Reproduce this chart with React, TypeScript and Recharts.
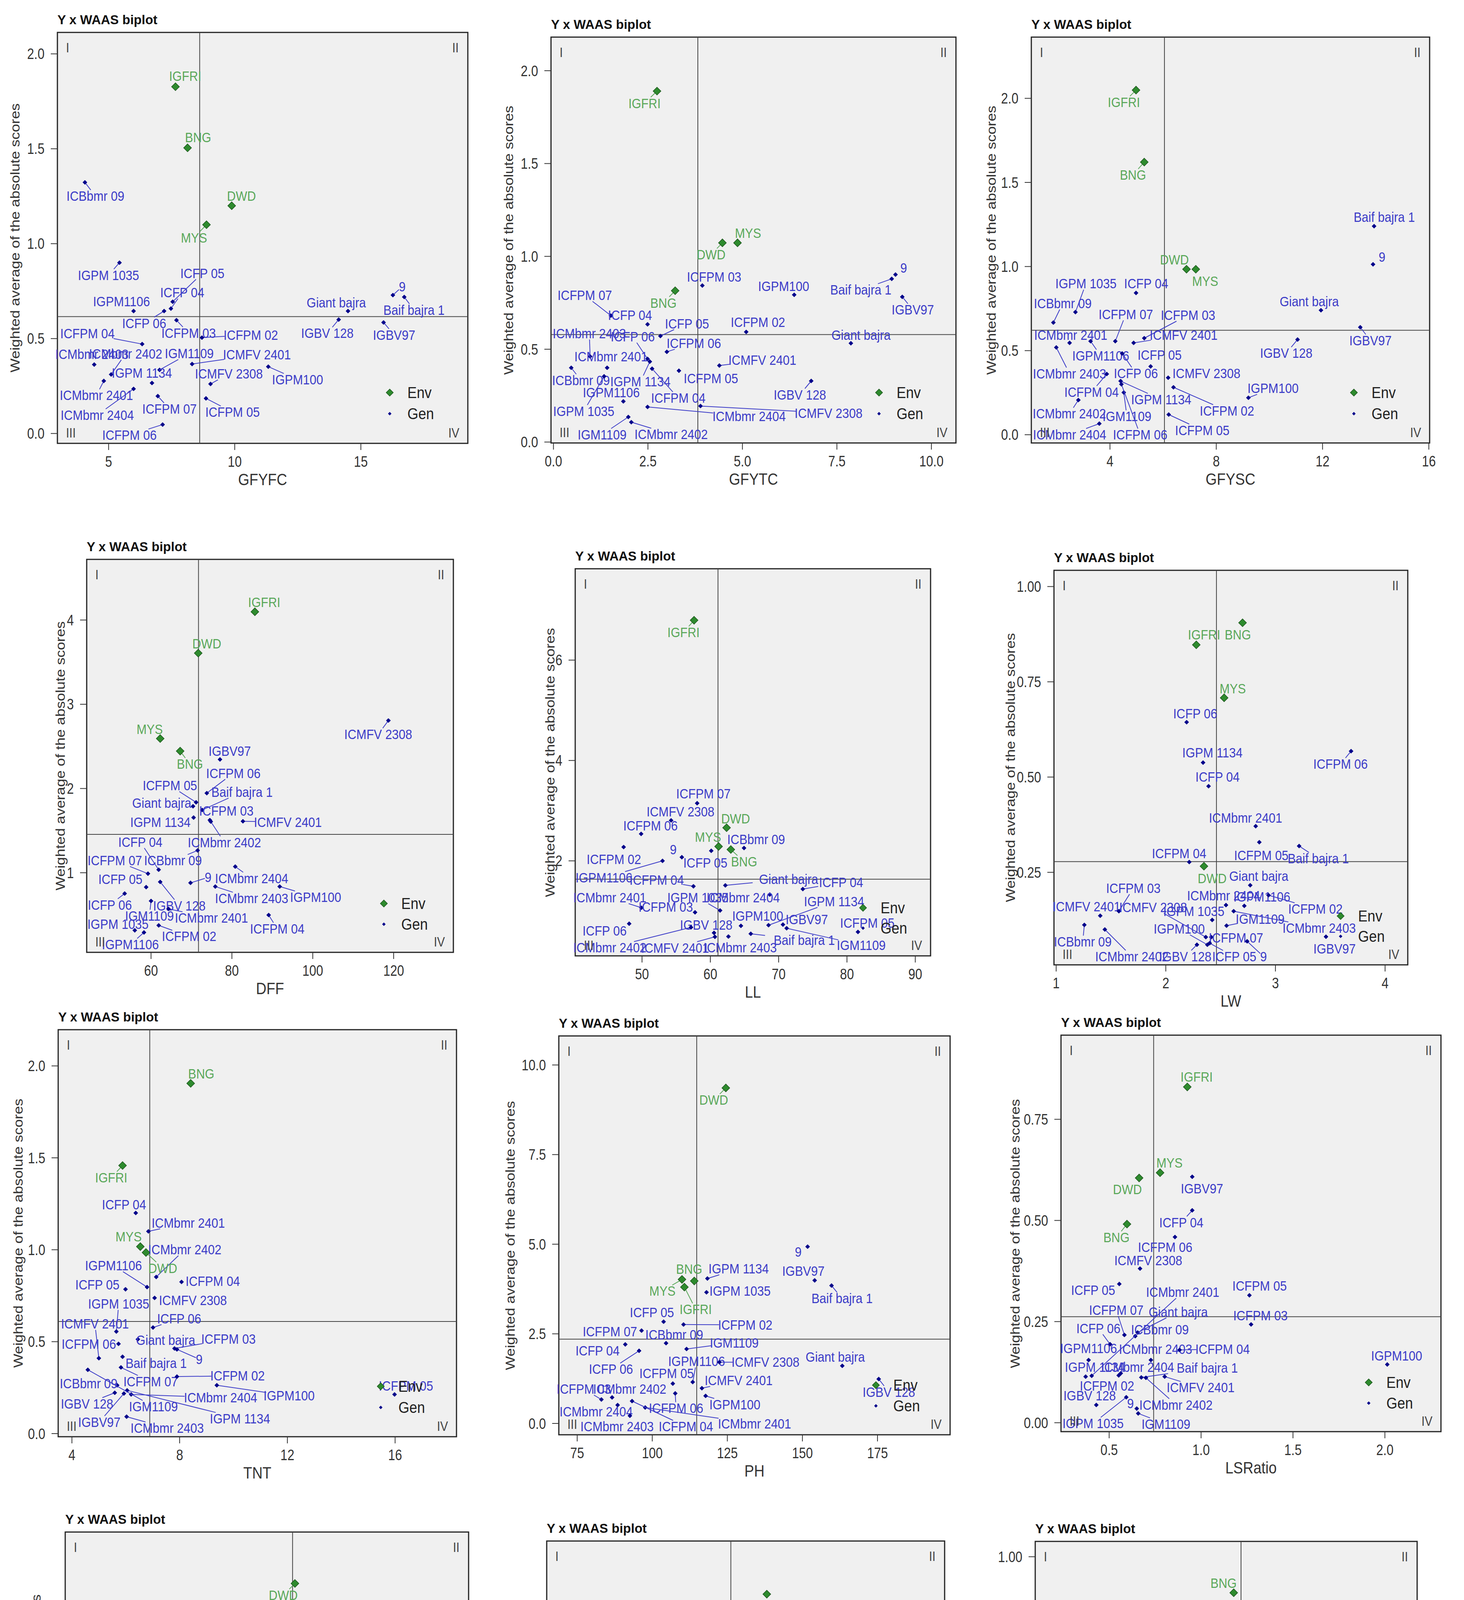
import { ScatterChart, Scatter, XAxis, YAxis, ReferenceLine, ReferenceArea } from "recharts";

type Row = [string, number, number];
type Nudge = Record<string, [number, number]>;

const FONT = '"Liberation Sans", Arial, Helvetica, sans-serif';
const GEN_DOT = "#00008b";
const GEN_TEXT = "#3c3cc8";
const ENV_DOT = "#2e8b2e";
const ENV_TEXT = "#5aa85a";
const LABEL_FS = 31;
// the source figure was stretched vertically a little, so text is drawn taller than wide
const STRETCH = 1.15;

const Y_TITLE = "Weighted average of the absolute scores";
const QUADRANTS = ["I", "II", "III", "IV"];

// ---- GFYFC ----
const gfyfcEnv: Row[] = [["IGFRI", 7.65, 1.827], ["BNG", 8.13, 1.505], ["DWD", 9.88, 1.2], ["MYS", 8.88, 1.1]];
const gfyfcGen: Row[] = [
  ["ICBbmr 09", 4.06, 1.323], ["IGPM 1035", 5.43, 0.9], ["IGPM1106", 5.99, 0.645], ["ICFP 05", 7.54, 0.694],
  ["ICFP 04", 7.47, 0.658], ["ICFP 06", 7.2, 0.645], ["ICFPM 03", 7.69, 0.597], ["ICFPM 02", 8.7, 0.505],
  ["ICFPM 04", 6.33, 0.471], ["ICMbmr 2403", 4.43, 0.363], ["ICMbmr 2402", 5.1, 0.311], ["IGM1109", 7.02, 0.335],
  ["IGPM 1134", 6.72, 0.266], ["ICMFV 2401", 8.31, 0.366], ["ICMFV 2308", 9.04, 0.261], ["IGPM100", 11.33, 0.352],
  ["ICMbmr 2401", 4.81, 0.277], ["ICMbmr 2404", 5.99, 0.235], ["ICFPM 07", 6.95, 0.197], ["ICFPM 05", 8.86, 0.185],
  ["ICFPM 06", 7.14, 0.047], ["Giant bajra", 14.49, 0.645], ["IGBV 128", 14.12, 0.6], ["9", 16.27, 0.729],
  ["Baif bajra 1", 16.72, 0.719], ["IGBV97", 15.9, 0.585],
];
const gfyfcNudge: Nudge = {
  IGFRI: [25, -27], BNG: [27, -27], DWD: [25, -25], MYS: [-32, 33],
  "ICBbmr 09": [27, 35], "IGPM 1035": [-28, 32], IGPM1106: [-31, -25], "ICFP 05": [76, -73], "ICFP 04": [29, -41],
  "ICFP 06": [-51, 31], "ICFPM 03": [31, 33], "ICFPM 02": [125, -7], "ICFPM 04": [-140, -27], "ICMbmr 2403": [-6, -27],
  "ICMbmr 2402": [37, -53], IGM1109: [76, -42], "IGPM 1134": [-26, -26], "ICMFV 2401": [166, -24], "ICMFV 2308": [47, -26],
  IGPM100: [75, 33], "ICMbmr 2401": [-19, 37], "ICMbmr 2404": [-93, 67], "ICFPM 07": [30, 33], "ICFPM 05": [68, 35],
  "ICFPM 06": [-85, 27], "Giant bajra": [-30, -22], "IGBV 128": [-29, 35], "9": [24, -22], "Baif bajra 1": [25, 33], IGBV97: [27, 32],
};

// ---- GFYTC ----
const gfytcEnv: Row[] = [["IGFRI", 2.74, 1.89], ["BNG", 3.22, 0.815], ["DWD", 4.47, 1.073], ["MYS", 4.87, 1.073]];
const gfytcGen: Row[] = [
  ["9", 9.05, 0.902], ["Baif bajra 1", 8.95, 0.879], ["IGBV97", 9.23, 0.782], ["IGPM100", 6.37, 0.793],
  ["ICFPM 03", 3.94, 0.843], ["ICFPM 07", 1.52, 0.681], ["ICFP 04", 2.49, 0.634], ["ICFP 05", 2.83, 0.571],
  ["ICFPM 02", 5.1, 0.593], ["Giant bajra", 7.87, 0.532], ["ICBbmr 09", 0.47, 0.4], ["ICMbmr 2403", 0.97, 0.461],
  ["ICMbmr 2401", 1.42, 0.4], ["IGPM 1035", 1.34, 0.354], ["IGPM1106", 1.85, 0.219], ["ICFP 06", 2.49, 0.448],
  ["IGPM 1134", 2.55, 0.433], ["ICFPM 04", 2.61, 0.395], ["ICFPM 06", 3.0, 0.486], ["ICFPM 05", 3.32, 0.384],
  ["ICMFV 2401", 4.39, 0.412], ["IGBV 128", 6.82, 0.329], ["ICMbmr 2404", 2.49, 0.189], ["ICMFV 2308", 3.89, 0.194],
  ["IGM1109", 1.98, 0.135], ["ICMbmr 2402", 2.06, 0.107],
];
const gfytcNudge: Nudge = {
  IGFRI: [-32, 31], BNG: [-30, 31], DWD: [-29, 30], MYS: [27, -25],
  "9": [21, -17], "Baif bajra 1": [-79, 28], IGBV97: [27, 33], IGPM100: [-27, -22], "ICFPM 03": [30, -22],
  "ICFPM 07": [-67, -52], "ICFP 04": [-45, -24], "ICFP 05": [68, -32], "ICFPM 02": [30, -25], "Giant bajra": [26, -21],
  "ICBbmr 09": [25, 32], "ICMbmr 2403": [-2, -59], "ICMbmr 2401": [10, -29], "IGPM 1035": [-52, 89], IGPM1106: [-31, -23],
  "ICFP 06": [-38, -57], "IGPM 1134": [-24, 51], "ICFPM 04": [67, 75], "ICFPM 06": [69, -22], "ICFPM 05": [82, 20],
  "ICMFV 2401": [110, -14], "IGBV 128": [-29, 35], "ICMbmr 2404": [260, 24], "ICMFV 2308": [328, 18], IGM1109: [-67, 45],
  "ICMbmr 2402": [102, 31],
};

// ---- GFYSC ----
const gfyscEnv: Row[] = [["IGFRI", 4.98, 2.049], ["BNG", 5.29, 1.621], ["DWD", 6.88, 0.984], ["MYS", 7.23, 0.984]];
const gfyscGen: Row[] = [
  ["Baif bajra 1", 13.94, 1.24], ["9", 13.9, 1.013], ["Giant bajra", 11.94, 0.74], ["IGBV97", 13.42, 0.639],
  ["IGBV 128", 11.06, 0.566], ["IGPM100", 9.21, 0.22], ["ICFP 04", 4.98, 0.843], ["IGPM 1035", 2.7, 0.729],
  ["ICBbmr 09", 1.87, 0.667], ["ICFPM 07", 4.2, 0.556], ["ICFPM 03", 5.29, 0.574], ["ICMbmr 2401", 2.48, 0.546],
  ["IGPM1106", 3.27, 0.556], ["ICMFV 2401", 4.89, 0.546], ["ICMbmr 2403", 1.98, 0.519], ["ICFP 06", 4.46, 0.483],
  ["ICFP 05", 5.53, 0.406], ["ICMFV 2308", 6.19, 0.339], ["ICFPM 04", 3.88, 0.361], ["IGPM 1134", 4.4, 0.319],
  ["IGM1109", 4.52, 0.251], ["ICFPM 06", 4.43, 0.3], ["ICFPM 02", 6.39, 0.282], ["ICFPM 05", 6.21, 0.12],
  ["ICMbmr 2402", 2.81, 0.206], ["ICMbmr 2404", 3.6, 0.066],
];
const gfyscNudge: Nudge = {
  IGFRI: [-31, 31], BNG: [-29, 33], DWD: [-31, -24], MYS: [24, 31],
  "Baif bajra 1": [26, -23], "9": [23, -19], "Giant bajra": [-30, -23], IGBV97: [26, 34], "IGBV 128": [-29, 35],
  IGPM100: [63, -24], "ICFP 04": [26, -24], "IGPM 1035": [27, -73], "ICBbmr 09": [24, -49], "ICFPM 07": [27, -69],
  "ICFPM 03": [112, -59], "ICMbmr 2401": [3, -20], IGPM1106: [26, 37], "ICMFV 2401": [128, -20], "ICMbmr 2403": [34, 67],
  "ICFP 06": [35, 51], "ICFP 05": [23, -29], "ICMFV 2308": [98, -11], "ICFPM 04": [-39, 46], "IGPM 1134": [104, 47],
  IGM1109: [8, 61], "ICFPM 06": [48, 129], "ICFPM 02": [137, 60], "ICFPM 05": [86, 40], "ICMbmr 2402": [-23, 35],
  "ICMbmr 2404": [-76, 28],
};

// ---- DFF ----
const dffEnv: Row[] = [["IGFRI", 85.68, 4.098], ["DWD", 71.67, 3.607], ["MYS", 62.27, 2.593], ["BNG", 67.2, 2.444]];
const dffGen: Row[] = [
  ["ICMFV 2308", 118.7, 2.807], ["IGBV97", 77.05, 2.345], ["ICFPM 06", 73.79, 1.945], ["ICFPM 05", 71.14, 1.836],
  ["Baif bajra 1", 72.65, 1.745], ["Giant bajra", 70.38, 1.789], ["ICFPM 03", 74.55, 1.625], ["IGPM 1134", 70.53, 1.655],
  ["ICMFV 2401", 82.73, 1.611], ["ICMbmr 2402", 74.77, 1.607], ["ICFP 04", 61.89, 1.036], ["ICFPM 07", 59.24, 0.989],
  ["ICBbmr 09", 71.52, 1.265], ["ICFP 05", 58.79, 0.829], ["9", 69.77, 0.88], ["IGBV 128", 62.27, 0.891],
  ["ICFP 06", 53.48, 0.753], ["ICMbmr 2404", 80.83, 1.073], ["ICMbmr 2403", 75.9, 0.836], ["IGPM100", 91.82, 0.836],
  ["ICMbmr 2401", 64.32, 0.571], ["IGM1109", 60.0, 0.665], ["ICFPM 04", 89.09, 0.498], ["IGPM 1035", 55.98, 0.316],
  ["IGPM1106", 58.26, 0.291], ["ICFPM 02", 61.89, 0.375],
];
const dffNudge: Nudge = {
  IGFRI: [24, -24], DWD: [22, -24], MYS: [-27, -24], BNG: [25, 33],
  "ICMFV 2308": [-26, 35], IGBV97: [25, -21], "ICFPM 06": [68, -51], "ICFPM 05": [-67, -43], "Baif bajra 1": [102, -46],
  "Giant bajra": [-80, -8], "ICFPM 03": [42, -24], "IGPM 1134": [-85, 12], "ICMFV 2401": [115, 2], "ICMbmr 2402": [35, 53],
  "ICFP 04": [-47, -71], "ICFPM 07": [-85, -34], "ICBbmr 09": [-63, 26], "ICFP 05": [-66, -20], "9": [45, -14],
  "IGBV 128": [49, 61], "ICFP 06": [-38, 29], "ICMbmr 2404": [42, 30], "ICMbmr 2403": [93, 30], IGPM100: [92, 27],
  "ICMbmr 2401": [110, 23], IGM1109: [-4, 38], "ICFPM 04": [22, 35], "IGPM 1035": [-43, -16], IGPM1106: [-35, 31],
  "ICFPM 02": [78, 28],
};

// ---- LL ----
const llEnv: Row[] = [["IGFRI", 57.62, 6.794], ["DWD", 62.38, 2.66], ["MYS", 61.21, 2.287], ["BNG", 63.0, 2.226]];
const llGen: Row[] = [
  ["ICFPM 07", 58.07, 3.148], ["ICMFV 2308", 54.26, 2.806], ["ICFPM 06", 49.87, 2.537], ["ICFPM 02", 47.31, 2.275],
  ["9", 55.83, 2.073], ["ICFP 05", 60.13, 2.2], ["ICBbmr 09", 64.93, 2.256], ["IGPM1106", 53.0, 2.0],
  ["ICFPM 04", 57.53, 1.493], ["Giant bajra", 62.2, 1.511], ["ICFP 04", 73.54, 1.438], ["ICMbmr 2404", 68.7, 1.328],
  ["IGPM 1035", 61.43, 1.011], ["ICMbmr 2401", 49.91, 1.066], ["ICFPM 03", 57.76, 0.974], ["IGPM 1134", 68.52, 0.718],
  ["ICFP 06", 48.12, 0.748], ["IGBV 128", 60.54, 0.565], ["IGPM100", 64.48, 0.705], ["IGBV97", 70.63, 0.73],
  ["IGM1109", 71.17, 0.657], ["Baif bajra 1", 65.92, 0.547], ["ICFPM 05", 81.61, 0.583], ["ICMbmr 2402", 57.17, 0.675],
  ["ICMFV 2401", 60.67, 0.486], ["ICMbmr 2403", 62.65, 0.492],
];
const llNudge: Nudge = {
  IGFRI: [-27, 31], DWD: [23, -23], MYS: [-27, -24], BNG: [34, 31],
  "ICFPM 07": [16, -25], "ICMFV 2308": [24, -22], "ICFPM 06": [24, -21], "ICFPM 02": [-25, 31], "9": [-22, -20],
  "ICFP 05": [-15, 31], "ICBbmr 09": [31, -22], IGPM1106: [-150, 43], "ICFPM 04": [-94, -16], "Giant bajra": [162, -16],
  "ICFP 04": [98, -17], "ICMbmr 2404": [-68, 8], "IGPM 1035": [-57, -33], "ICMbmr 2401": [-81, -26], "ICFPM 03": [-75, -14],
  "IGPM 1134": [168, -61], "ICFP 06": [-63, 18], "IGBV 128": [-20, -20], IGPM100: [43, -25], IGBV97: [61, -13],
  IGM1109: [191, 43], "Baif bajra 1": [137, 16], "ICFPM 05": [24, -23], "ICMbmr 2402": [-208, 52], "ICMFV 2401": [-102, 28],
  "ICMbmr 2403": [30, 28],
};

// ---- LW ----
const lwEnv: Row[] = [["BNG", 2.7, 0.905], ["IGFRI", 2.278, 0.847], ["MYS", 2.532, 0.708], ["DWD", 2.348, 0.266]];
const lwGen: Row[] = [
  ["ICFP 06", 2.19, 0.644], ["ICFPM 06", 3.69, 0.568], ["IGPM 1134", 2.34, 0.538], ["ICFP 04", 2.39, 0.476],
  ["ICMbmr 2401", 2.82, 0.371], ["ICFPM 05", 2.853, 0.329], ["Baif bajra 1", 3.216, 0.319], ["ICFPM 04", 2.214, 0.277],
  ["Giant bajra", 2.77, 0.216], ["IGBV97", 3.461, 0.081], ["ICBbmr 09", 1.257, 0.112], ["ICMbmr 2402", 1.444, 0.1],
  ["ICMFV 2401", 1.402, 0.136], ["ICFPM 03", 1.572, 0.148], ["ICMFV 2308", 2.365, 0.08], ["IGPM 1035", 2.423, 0.125],
  ["IGPM100", 2.379, 0.06], ["IGM1109", 2.554, 0.11], ["ICFPM 07", 2.415, 0.08], ["IGBV 128", 2.284, 0.06],
  ["ICMbmr 2404", 2.549, 0.164], ["IGPM1106", 2.716, 0.162], ["ICFPM 02", 2.937, 0.19], ["ICMbmr 2403", 2.619, 0.148],
  ["9", 2.742, 0.069], ["ICFP 05", 2.4, 0.064],
];
const lwNudge: Nudge = {
  BNG: [-12, 31], IGFRI: [20, -26], MYS: [22, -24], DWD: [21, 31],
  "ICFP 06": [22, -22], "ICFPM 06": [-27, 33], "IGPM 1134": [24, -25], "ICFP 04": [23, -24], "ICMbmr 2401": [-26, -21],
  "ICFPM 05": [5, 34], "Baif bajra 1": [49, 32], "ICFPM 04": [-26, -22], "Giant bajra": [22, -24], IGBV97: [22, 31],
  "ICBbmr 09": [-4, 43], "ICMbmr 2402": [69, 69], "ICMFV 2401": [-35, -24], "ICFPM 03": [37, -59], "ICMFV 2308": [-135, -76],
  "IGPM 1035": [-47, -22], IGPM100: [-72, -41], IGM1109: [86, -17], "ICFPM 07": [63, 2], "IGBV 128": [-30, 30],
  "ICMbmr 2404": [-6, -24], IGPM1106: [45, -23], "ICFPM 02": [120, 35], "ICMbmr 2403": [219, 43], "9": [42, 39],
  "ICFP 05": [63, 34],
};

// ---- TNT ----
const tntEnv: Row[] = [["BNG", 8.41, 1.905], ["IGFRI", 5.88, 1.458], ["MYS", 6.54, 1.017], ["DWD", 6.75, 0.985]];
const tntGen: Row[] = [
  ["ICFP 04", 6.37, 1.2], ["ICMbmr 2401", 6.84, 1.1], ["ICMbmr 2402", 7.13, 0.852], ["ICFPM 04", 8.07, 0.825],
  ["IGPM1106", 6.79, 0.797], ["ICFP 05", 5.99, 0.785], ["ICMFV 2308", 7.07, 0.738], ["IGPM 1035", 5.65, 0.555],
  ["ICFP 06", 7.01, 0.577], ["ICMFV 2401", 5.0, 0.41], ["ICFPM 06", 5.73, 0.488], ["Giant bajra", 6.45, 0.513],
  ["ICFPM 03", 7.81, 0.463], ["9", 7.9, 0.458], ["Baif bajra 1", 5.88, 0.418], ["ICBbmr 09", 5.68, 0.263],
  ["IGBV 128", 5.59, 0.222], ["IGBV97", 5.93, 0.218], ["ICFPM 07", 5.82, 0.36], ["ICFPM 02", 7.9, 0.31],
  ["IGPM100", 9.38, 0.263], ["ICMbmr 2404", 6.2, 0.213], ["IGPM 1134", 6.05, 0.235], ["ICMbmr 2403", 6.03, 0.092],
  ["IGM1109", 4.59, 0.347], ["ICFPM 05", 15.98, 0.213],
];
const tntNudge: Nudge = {
  BNG: [27, -25], IGFRI: [-29, 31], MYS: [-30, -26], DWD: [43, 40],
  "ICFP 04": [-30, -22], "ICMbmr 2401": [102, -22], "ICMbmr 2402": [73, -70], "ICFPM 04": [80, -2], IGPM1106: [-86, -55],
  "ICFP 05": [-72, -12], "ICMFV 2308": [98, 6], "IGPM 1035": [6, -71], "ICFP 06": [67, -23], "ICMFV 2401": [-10, -88],
  "ICFPM 06": [-76, 0], "Giant bajra": [71, 2], "ICFPM 03": [138, -24], "9": [57, 25], "Baif bajra 1": [86, 16],
  "ICBbmr 09": [-73, -4], "IGBV 128": [-71, 28], IGBV97: [-63, 73], "ICFPM 07": [76, 36], "ICFPM 02": [155, -2],
  IGPM100: [185, 27], "ICMbmr 2404": [229, 8], "IGPM 1134": [289, 72], "ICMbmr 2403": [104, 29], IGM1109: [168, 94],
  "ICFPM 05": [29, -22],
};

// ---- PH ----
const phEnv: Row[] = [["DWD", 124.5, 9.359], ["MYS", 109.9, 4.017], ["BNG", 113.98, 3.974], ["IGFRI", 110.7, 3.803]];
const phGen: Row[] = [
  ["9", 151.73, 4.932], ["IGBV97", 154.08, 3.99], ["Baif bajra 1", 159.69, 3.846], ["IGPM 1134", 118.37, 4.043],
  ["IGPM 1035", 118.06, 3.658], ["ICFP 05", 103.78, 2.838], ["ICFPM 02", 110.41, 2.76], ["ICFPM 07", 96.43, 2.59],
  ["ICBbmr 09", 104.59, 2.239], ["ICFP 04", 91.02, 2.205], ["IGM1109", 111.43, 2.077], ["ICFP 06", 95.61, 2.026],
  ["Giant bajra", 163.27, 1.607], ["IGPM1106", 113.47, 1.154], ["ICMFV 2308", 122.35, 1.709], ["ICFPM 05", 106.84, 1.111],
  ["ICMFV 2401", 116.53, 0.983], ["IGPM100", 117.76, 0.769], ["ICFPM 03", 83.06, 0.667], ["ICMbmr 2402", 86.63, 0.726],
  ["ICMbmr 2404", 88.47, 0.513], ["ICMbmr 2401", 97.65, 0.444], ["ICFPM 06", 107.65, 0.838], ["ICMbmr 2403", 92.55, 0.214],
  ["ICFPM 04", 93.27, 0.624], ["IGBV 128", 175.41, 1.239],
];
const phNudge: Nudge = {
  DWD: [-31, 31], MYS: [-50, 29], BNG: [-13, -31], IGFRI: [29, 57],
  "9": [-24, 13], IGBV97: [-29, -24], "Baif bajra 1": [27, 33], "IGPM 1134": [80, -25], "IGPM 1035": [86, -4],
  "ICFP 05": [-30, -24], "ICFPM 02": [158, 1], "ICFPM 07": [-81, 2], "ICBbmr 09": [21, -22], "ICFP 04": [-71, 16],
  IGM1109: [122, -16], "ICFP 06": [-72, 47], "Giant bajra": [-18, -23], IGPM1106: [10, -53], "ICMFV 2308": [118, 0],
  "ICFPM 05": [-16, -26], "ICMFV 2401": [94, -20], IGPM100: [75, 22], "ICFPM 03": [-45, -27], "ICMbmr 2402": [45, -22],
  "ICMbmr 2404": [-55, 17], "ICMbmr 2401": [280, 41], "ICFPM 06": [2, 38], "ICMbmr 2403": [-33, 27], "ICFPM 04": [138, 65],
  "IGBV 128": [26, 33],
};

// ---- LSRatio ----
const lsrEnv: Row[] = [["IGFRI", 0.925, 0.83], ["MYS", 0.777, 0.618], ["DWD", 0.663, 0.605], ["BNG", 0.597, 0.491]];
const lsrGen: Row[] = [
  ["IGBV97", 0.952, 0.608], ["ICFP 04", 0.952, 0.525], ["ICFPM 06", 0.858, 0.459], ["ICMFV 2308", 0.668, 0.381],
  ["ICFP 05", 0.555, 0.343], ["ICFPM 05", 1.263, 0.315], ["ICFPM 03", 1.272, 0.243], ["IGPM100", 2.013, 0.144],
  ["ICFPM 07", 0.583, 0.217], ["ICBbmr 09", 0.642, 0.214], ["Giant bajra", 0.655, 0.223], ["ICFP 06", 0.505, 0.194],
  ["IGPM1106", 0.388, 0.155], ["IGPM 1134", 0.372, 0.114], ["ICMbmr 2401", 0.405, 0.116], ["ICMbmr 2403", 0.727, 0.155],
  ["ICFPM 04", 0.883, 0.18], ["ICMbmr 2404", 0.563, 0.122], ["Baif bajra 1", 0.675, 0.112], ["ICMbmr 2402", 0.7, 0.111],
  ["ICMFV 2401", 0.802, 0.114], ["ICFPM 02", 0.552, 0.117], ["IGBV 128", 0.43, 0.044], ["9", 0.65, 0.035],
  ["IGM1109", 0.658, 0.023], ["IGPM 1035", 0.593, 0.063],
];
const lsrNudge: Nudge = {
  IGFRI: [24, -26], MYS: [24, -25], DWD: [-30, 29], BNG: [-27, 34],
  IGBV97: [25, 30], "ICFP 04": [-28, 31], "ICFPM 06": [-25, 26], "ICMFV 2308": [21, -21], "ICFP 05": [-67, 16],
  "ICFPM 05": [26, -24], "ICFPM 03": [24, -23], IGPM100: [24, -22], "ICFPM 07": [-21, -64], "ICBbmr 09": [63, -17],
  "Giant bajra": [104, -53], "ICFP 06": [-30, -41], IGPM1106: [0, -30], "IGPM 1134": [24, -24], "ICMbmr 2401": [233, -214],
  "ICMbmr 2403": [12, -28], "ICFPM 04": [110, -2], "ICMbmr 2404": [43, -16], "Baif bajra 1": [169, -24], "ICMbmr 2402": [77, 69],
  "ICMFV 2401": [92, 28], "ICFPM 02": [-30, 27], "IGBV 128": [-17, -24], "9": [-16, -13], IGM1109: [71, 27],
  "IGPM 1035": [-85, 67],
};

// ---- NDF ----
const ndfEnv: Row[] = [["DWD", 64.77, 2.558], ["BNG", 64.82, 1.569], ["MYS", 64.0, 1.369], ["IGFRI", 64.47, 0.518]];
const ndfGen: Row[] = [
  ["IGPM100", 54.08, 2.129], ["ICFPM 05", 65.47, 1.341], ["ICFP 04", 69.44, 1.092], ["ICFPM 04", 66.5, 0.958],
  ["IGM1109", 65.71, 0.682], ["ICFPM 02", 65.1, 0.746], ["ICMbmr 2402", 63.37, 0.499], ["ICMFV 2308", 62.25, 0.624],
  ["IGPM 1134", 65.24, 0.546], ["IGBV97", 61.32, 0.539], ["9", 62.95, 0.482], ["ICFPM 07", 65.4, 0.428],
  ["IGBV 128", 68.83, 0.494], ["IGPM1106", 63.72, 0.271], ["ICFP 06", 63.19, 0.287], ["ICMbmr 2403", 60.67, 0.28],
  ["ICFP 05", 69.56, 0.252], ["ICMFV 2401", 62.67, 0.216], ["ICFPM 06", 63.6, 0.127], ["IGPM 1035", 65.24, 0.146],
  ["ICBbmr 09", 61.48, 0.111], ["ICMbmr 2404", 68.25, 0.165], ["ICMbmr 2401", 62.95, 0.08], ["ICFPM 03", 64.77, 0.068],
  ["Baif bajra 1", 65.94, 0.127], ["Giant bajra", 68.83, 0.118],
];
const ndfNudge: Nudge = {
  DWD: [-30, 30], BNG: [27, -26], MYS: [-31, -24], IGFRI: [-77, 45],
  IGPM100: [25, -24], "ICFPM 05": [29, 31], "ICFP 04": [41, -27], "ICFPM 04": [27, -24], IGM1109: [57, -35],
  "ICFPM 02": [-75, -30], "ICMbmr 2402": [-200, -110], "ICMFV 2308": [-29, -23], "IGPM 1134": [105, -33], IGBV97: [-73, -2],
  "9": [-25, -15], "ICFPM 07": [43, -25], "IGBV 128": [93, -3], IGPM1106: [82, -25], "ICFP 06": [-151, -22],
  "ICMbmr 2403": [-237, 2], "ICFP 05": [74, -37], "ICMFV 2401": [-103, 12], "ICFPM 06": [33, -27], "IGPM 1035": [72, -25],
  "ICBbmr 09": [-243, -5], "ICMbmr 2404": [159, 10], "ICMbmr 2401": [-154, 31], "ICFPM 03": [-34, 27], "Baif bajra 1": [94, 46],
  "Giant bajra": [171, 43],
};

// ---- ADF ----
const adfEnv: Row[] = [["BNG", 34.62, 1.641], ["DWD", 31.37, 1.091], ["MYS", 34.87, 1.077], ["IGFRI", 32.08, 0.94]];
const adfGen: Row[] = [
  ["Giant bajra", 34.07, 1.105], ["ICFPM 07", 33.3, 0.93], ["ICBbmr 09", 30.04, 0.625], ["ICFP 06", 33.33, 0.621],
  ["IGM1109", 37.16, 0.596], ["ICMbmr 2401", 29.58, 0.553], ["IGPM 1134", 34.17, 0.513], ["ICMFV 2308", 35.32, 0.484],
  ["ICMbmr 2403", 30.85, 0.41], ["IGPM100", 32.9, 0.41], ["IGBV97", 36.26, 0.369], ["Baif bajra 1", 34.09, 0.283],
  ["ICMbmr 2402", 29.72, 0.348], ["ICFPM 02", 31.21, 0.321], ["ICFPM 04", 35.42, 0.324], ["ICFP 05", 33.12, 0.288],
  ["ICMFV 2401", 33.33, 0.288], ["ICFPM 06", 31.03, 0.266], ["ICFPM 03", 31.57, 0.259], ["ICMbmr 2404", 31.37, 0.23],
  ["ICFPM 05", 34.21, 0.266], ["9", 33.93, 0.235], ["IGPM 1035", 34.26, 0.226], ["IGBV 128", 35.89, 0.148],
  ["ICFP 04", 33.57, 0.14], ["IGPM1106", 33.57, 0.118],
];
const adfNudge: Nudge = {
  BNG: [-29, 28], DWD: [24, -23], MYS: [21, 29], IGFRI: [-29, -22],
  "Giant bajra": [-27, -24], "ICFPM 07": [24, 30], "ICBbmr 09": [27, -21], "ICFP 06": [-26, -24], IGM1109: [-25, -21],
  "ICMbmr 2401": [-98, 12], "IGPM 1134": [-27, -20], "ICMFV 2308": [71, -24], "ICMbmr 2403": [-55, -21], IGPM100: [-22, -21],
  IGBV97: [50, -34], "Baif bajra 1": [48, -79], "ICMbmr 2402": [-100, -8], "ICFPM 02": [22, -21], "ICFPM 04": [133, -12],
  "ICFP 05": [-27, -22], "ICMFV 2401": [59, -31], "ICFPM 06": [-76, -6], "ICFPM 03": [71, 14], "ICMbmr 2404": [-82, 45],
  "ICFPM 05": [78, 0], "9": [8, 32], "IGPM 1035": [85, 72], "IGBV 128": [75, -17], "ICFP 04": [-68, -5], IGPM1106: [-27, 29],
};

// ---- LIGNIN ----
const ligEnv: Row[] = [["BNG", 5.468, 0.9], ["DWD", 5.67, 0.851], ["MYS", 5.532, 0.102], ["IGFRI", 5.638, 0.053]];
const ligGen: Row[] = [
  ["IGPM 1035", 6.73, 0.797], ["Baif bajra 1", 7.23, 0.414], ["ICMbmr 2403", 3.364, 0.339], ["IGBV97", 5.961, 0.285],
  ["ICMFV 2308", 6.017, 0.281], ["ICFP 06", 5.961, 0.24], ["ICMbmr 2404", 3.692, 0.21], ["IGBV 128", 7.1, 0.203],
  ["ICMbmr 2401", 3.272, 0.193], ["ICFPM 02", 4.707, 0.172], ["IGPM1106", 5.915, 0.223], ["ICFPM 03", 5.638, 0.181],
  ["IGM1109", 5.4, 0.181], ["ICFP 04", 5.555, 0.181], ["Giant bajra", 7.114, 0.145], ["ICFPM 07", 5.223, 0.111],
  ["ICFPM 06", 5.832, 0.117], ["ICMFV 2401", 6.09, 0.112], ["9", 6.353, 0.112], ["ICFPM 05", 6.316, 0.091],
  ["IGPM 1134", 6.73, 0.112], ["ICFPM 04", 6.593, 0.081], ["ICBbmr 09", 3.364, 0.132], ["ICMbmr 2402", 3.03, 0.072],
  ["ICFP 05", 5.8, 0.011], ["IGPM100", 5.89, 0.004],
];
const ligNudge: Nudge = {
  BNG: [-26, -25], DWD: [24, 33], MYS: [-80, 24], IGFRI: [-102, 24],
  "IGPM 1035": [-27, 33], "Baif bajra 1": [26, -24], "ICMbmr 2403": [26, -25], IGBV97: [-51, -24], "ICMFV 2308": [94, -14],
  "ICFP 06": [75, -6], "ICMbmr 2404": [-28, -22], "IGBV 128": [42, -21], "ICMbmr 2401": [-29, 33], "ICFPM 02": [-93, -10],
  IGPM1106: [-63, 19], "ICFPM 03": [141, -13], IGM1109: [-123, -51], "ICFP 04": [-239, 47], "Giant bajra": [78, -21],
  "ICFPM 07": [-143, 31], "ICFPM 06": [16, -21], "ICMFV 2401": [-175, -20], "9": [21, 0], "ICFPM 05": [-29, 31],
  "IGPM 1134": [82, 11], "ICFPM 04": [77, 30], "ICBbmr 09": [-29, 31], "ICMbmr 2402": [26, 31], "ICFP 05": [-8, -15],
  IGPM100: [72, 25],
};

interface Panel {
  trait: string;
  env: Row[];
  gen: Row[];
  nudge: Nudge;
  box: [number, number, number, number];
  xDomain: [number, number];
  yDomain: [number, number];
  xTicks: number[];
  yTicks: number[];
  xDec: number;
  yDec: number;
  vLine: number;
  hLine: number;
  yGap: number;
}

const PANELS: Panel[] = [
  { trait: "GFYFC", env: gfyfcEnv, gen: gfyfcGen, nudge: gfyfcNudge, box: [147, 83, 1051, 1052], xDomain: [2.97, 19.24], yDomain: [-0.052, 2.113], xTicks: [5, 10, 15], yTicks: [0, 0.5, 1, 1.5, 2], xDec: 0, yDec: 1, vLine: 8.61, hLine: 0.616, yGap: 108 },
  { trait: "GFYTC", env: gfytcEnv, gen: gfytcGen, nudge: gfytcNudge, box: [1411, 95, 1037, 1039], xDomain: [-0.065, 10.65], yDomain: [-0.005, 2.181], xTicks: [0, 2.5, 5, 7.5, 10], yTicks: [0, 0.5, 1, 1.5, 2], xDec: 1, yDec: 1, vLine: 3.82, hLine: 0.579, yGap: 108 },
  { trait: "GFYSC", env: gfyscEnv, gen: gfyscGen, nudge: gfyscNudge, box: [2641, 95, 1020, 1039], xDomain: [1.04, 16.03], yDomain: [-0.049, 2.364], xTicks: [4, 8, 12, 16], yTicks: [0, 0.5, 1, 1.5, 2], xDec: 0, yDec: 1, vLine: 6.05, hLine: 0.621, yGap: 102 },
  { trait: "DFF", env: dffEnv, gen: dffGen, nudge: dffNudge, box: [222, 1432, 939, 1006], xDomain: [44.09, 134.77], yDomain: [0.055, 4.72], xTicks: [60, 80, 100, 120], yTicks: [1, 2, 3, 4], xDec: 0, yDec: 0, vLine: 71.74, hLine: 1.455, yGap: 67 },
  { trait: "LL", env: llEnv, gen: llGen, nudge: llNudge, box: [1473, 1456, 910, 991], xDomain: [40.22, 92.24], yDomain: [0.107, 7.82], xTicks: [50, 60, 70, 80, 90], yTicks: [2, 4, 6], xDec: 0, yDec: 0, vLine: 61.12, hLine: 1.634, yGap: 64 },
  { trait: "LW", env: lwEnv, gen: lwGen, nudge: lwNudge, box: [2699, 1460, 906, 1010], xDomain: [0.98, 4.207], yDomain: [0.0072, 1.0426], xTicks: [1, 2, 3, 4], yTicks: [0.25, 0.5, 0.75, 1], xDec: 0, yDec: 2, vLine: 2.462, hLine: 0.278, yGap: 111 },
  { trait: "TNT", env: tntEnv, gen: tntGen, nudge: tntNudge, box: [149, 2636, 1020, 1042], xDomain: [3.49, 18.28], yDomain: [-0.017, 2.197], xTicks: [4, 8, 12, 16], yTicks: [0, 0.5, 1, 1.5, 2], xDec: 0, yDec: 1, vLine: 6.89, hLine: 0.61, yGap: 102 },
  { trait: "PH", env: phEnv, gen: phGen, nudge: phNudge, box: [1431, 2652, 1002, 1021], xDomain: [68.88, 199.18], yDomain: [-0.316, 10.81], xTicks: [75, 100, 125, 150, 175], yTicks: [0, 2.5, 5, 7.5, 10], xDec: 0, yDec: 1, vLine: 114.8, hLine: 2.35, yGap: 124 },
  { trait: "LSRatio", env: lsrEnv, gen: lsrGen, nudge: lsrNudge, box: [2717, 2650, 973, 1015], xDomain: [0.238, 2.305], yDomain: [-0.022, 0.958], xTicks: [0.5, 1, 1.5, 2], yTicks: [0, 0.25, 0.5, 0.75], xDec: 1, yDec: 2, vLine: 0.742, hLine: 0.262, yGap: 117 },
  { trait: "NDF", env: ndfEnv, gen: ndfGen, nudge: ndfNudge, box: [167, 3922, 1033, 1008], xDomain: [47.27, 78.0], yDomain: [-0.071, 2.953], xTicks: [50, 60, 70], yTicks: [0, 1, 2], xDec: 0, yDec: 0, vLine: 64.59, hLine: 0.621, yGap: 74 },
  { trait: "ADF", env: adfEnv, gen: adfGen, nudge: adfNudge, box: [1400, 3945, 1019, 1021], xDomain: [25.93, 41.64], yDomain: [0.022, 1.89], xTicks: [30, 35, 40], yTicks: [0.5, 1, 1.5], xDec: 0, yDec: 1, vLine: 33.2, hLine: 0.5, yGap: 97 },
  { trait: "LIGNIN", env: ligEnv, gen: ligGen, nudge: ligNudge, box: [2651, 3946, 978, 1004], xDomain: [2.479, 8.23], yDomain: [-0.047, 1.0426], xTicks: [3, 4, 5, 6, 7, 8], yTicks: [0, 0.25, 0.5, 0.75, 1], xDec: 0, yDec: 2, vLine: 5.578, hLine: 0.228, yGap: 118 },
];

// room around the plot box inside each chart
const ML = 170;
const MT = 70;
const MR = 30;
const MB = 140;
const YW = 100;
const XH = 60;

function Mark(props: any) {
  const { cx, cy, payload, env } = props;
  if (cx == null || cy == null) return null;
  const r = env ? 10 : 5.5;
  const lx = cx + payload.dx;
  const ly = cy + payload.dy;
  const hw = payload.name.length * 0.27 * LABEL_FS;
  const hh = LABEL_FS * 0.5;
  // leader segment from the point to the edge of the label box
  let seg: number[] | null = null;
  const ddx = cx - lx;
  const ddy = cy - ly;
  const s = Math.min(ddx !== 0 ? hw / Math.abs(ddx) : Infinity, ddy !== 0 ? hh / Math.abs(ddy) : Infinity);
  if (s < 1) {
    const ex = lx + ddx * s;
    const ey = ly + ddy * s;
    if (Math.hypot(cx - ex, cy - ey) > 20) seg = [ex, ey];
  }
  const textColor = env ? ENV_TEXT : GEN_TEXT;
  return (
    <g>
      {seg && <line x1={cx} y1={cy} x2={seg[0]} y2={seg[1]} stroke={textColor} strokeWidth={2} />}
      <polygon
        points={`${cx},${cy - r} ${cx + r},${cy} ${cx},${cy + r} ${cx - r},${cy}`}
        fill={env ? ENV_DOT : GEN_DOT}
        stroke={env ? "#1f5a1f" : GEN_DOT}
        strokeWidth={env ? 1.5 : 1}
      />
      <text
        transform={`translate(${lx} ${ly}) scale(1 ${STRETCH})`}
        textAnchor="middle"
        dominantBaseline="central"
        fontSize={LABEL_FS}
        fontFamily={FONT}
        fill={textColor}
      >
        {payload.name}
      </text>
    </g>
  );
}

function XTick(props: any) {
  const { x, y, payload, dec } = props;
  return (
    <text transform={`translate(${x} ${y}) scale(1 1.2)`} textAnchor="middle" dy="0.75em" fontSize={32} fontFamily={FONT} fill="#333">
      {Number(payload.value).toFixed(dec)}
    </text>
  );
}

function YTick(props: any) {
  const { x, y, payload, dec } = props;
  return (
    <text transform={`translate(${x} ${y}) scale(1 1.2)`} textAnchor="end" dominantBaseline="central" fontSize={32} fontFamily={FONT} fill="#333">
      {Number(payload.value).toFixed(dec)}
    </text>
  );
}

function Biplot({ p }: { p: Panel }) {
  const [l, t, w, h] = p.box;
  const W = w + ML + MR;
  const H = h + MT + MB;
  const build = (rows: Row[]) =>
    rows.map(([name, x, y]) => ({ name, x, y, dx: (p.nudge[name] || [0, -25])[0], dy: (p.nudge[name] || [0, -25])[1] }));
  const envData = build(p.env);
  const genData = build(p.gen);
  const quad = { position: "absolute" as const, fontSize: 30, color: "#444", fontFamily: FONT, lineHeight: "30px", transform: "scaleY(1.15)" };
  const legendText = { position: "absolute" as const, fontSize: 36, fontFamily: FONT, color: "#222", lineHeight: "42px", transform: `scaleY(${STRETCH})` };
  return (
    <div style={{ position: "absolute", left: l - ML, top: t - MT, width: W, height: H }}>
      <ScatterChart width={W} height={H} margin={{ top: MT, right: MR, bottom: MB - XH, left: ML - YW }}>
        <XAxis
          type="number"
          dataKey="x"
          domain={p.xDomain}
          ticks={p.xTicks}
          interval={0}
          height={XH}
          axisLine={false}
          tickSize={17}
          tickMargin={14}
          tick={(tp: any) => <XTick {...tp} dec={p.xDec} />}
          tickLine={{ stroke: "#333", strokeWidth: 2 }}
        />
        <YAxis
          type="number"
          dataKey="y"
          domain={p.yDomain}
          ticks={p.yTicks}
          interval={0}
          width={YW}
          axisLine={false}
          tickSize={17}
          tickMargin={16}
          tick={(tp: any) => <YTick {...tp} dec={p.yDec} />}
          tickLine={{ stroke: "#333", strokeWidth: 2 }}
        />
        <ReferenceArea
          x1={p.xDomain[0]}
          x2={p.xDomain[1]}
          y1={p.yDomain[0]}
          y2={p.yDomain[1]}
          fill="#f0f0f0"
          fillOpacity={1}
          stroke="#222"
          strokeWidth={3}
        />
        <ReferenceLine x={p.vLine} stroke="#444" strokeWidth={2} />
        <ReferenceLine y={p.hLine} stroke="#444" strokeWidth={2} />
        <Scatter name="Gen" data={genData} isAnimationActive={false} shape={(sp: any) => <Mark {...sp} env={false} />} />
        <Scatter name="Env" data={envData} isAnimationActive={false} shape={(sp: any) => <Mark {...sp} env={true} />} />
      </ScatterChart>

      <div style={{ position: "absolute", left: ML, top: MT - 52, fontSize: 33, fontWeight: "bold", fontFamily: FONT, color: "#111", whiteSpace: "nowrap", lineHeight: "40px" }}>
        Y x WAAS biplot
      </div>
      <div style={{ position: "absolute", left: ML, width: w, top: MT + h + 72, textAlign: "center", fontSize: 37, fontFamily: FONT, color: "#333", lineHeight: "42px", transform: `scaleY(${STRETCH})` }}>
        {p.trait}
      </div>
      <div
        style={{
          position: "absolute",
          left: ML - p.yGap,
          top: MT + h / 2,
          transform: `translate(-50%, -50%) rotate(-90deg) scaleX(${STRETCH})`,
          whiteSpace: "nowrap",
          fontSize: 33,
          lineHeight: "38px",
          fontFamily: FONT,
          color: "#333",
        }}
      >
        {Y_TITLE}
      </div>

      <div style={{ ...quad, left: ML + 22, top: MT + 24 }}>{QUADRANTS[0]}</div>
      <div style={{ ...quad, left: ML + w - 40, top: MT + 24 }}>{QUADRANTS[1]}</div>
      <div style={{ ...quad, left: ML + 22, top: MT + h - 42 }}>{QUADRANTS[2]}</div>
      <div style={{ ...quad, left: ML + w - 50, top: MT + h - 42 }}>{QUADRANTS[3]}</div>

      <svg style={{ position: "absolute", left: ML + w * 0.81 - 12, top: MT + h * 0.876 - 12, overflow: "visible" }} width={24} height={24}>
        <polygon points="12,3 21,12 12,21 3,12" fill={ENV_DOT} stroke="#1f5a1f" strokeWidth={1.5} />
      </svg>
      <div style={{ ...legendText, left: ML + w * 0.81 + 45, top: MT + h * 0.876 - 21 }}>Env</div>
      <svg style={{ position: "absolute", left: ML + w * 0.81 - 12, top: MT + h * 0.928 - 12, overflow: "visible" }} width={24} height={24}>
        <polygon points="12,7.5 16.5,12 12,16.5 7.5,12" fill={GEN_DOT} />
      </svg>
      <div style={{ ...legendText, left: ML + w * 0.81 + 45, top: MT + h * 0.928 - 21 }}>Gen</div>
    </div>
  );
}

export default function App() {
  return (
    <div style={{ position: "absolute", left: 0, top: 0, width: 3749, height: 5087, background: "#fff", overflow: "hidden" }}>
      {PANELS.map((p) => (
        <Biplot key={p.trait} p={p} />
      ))}
    </div>
  );
}
